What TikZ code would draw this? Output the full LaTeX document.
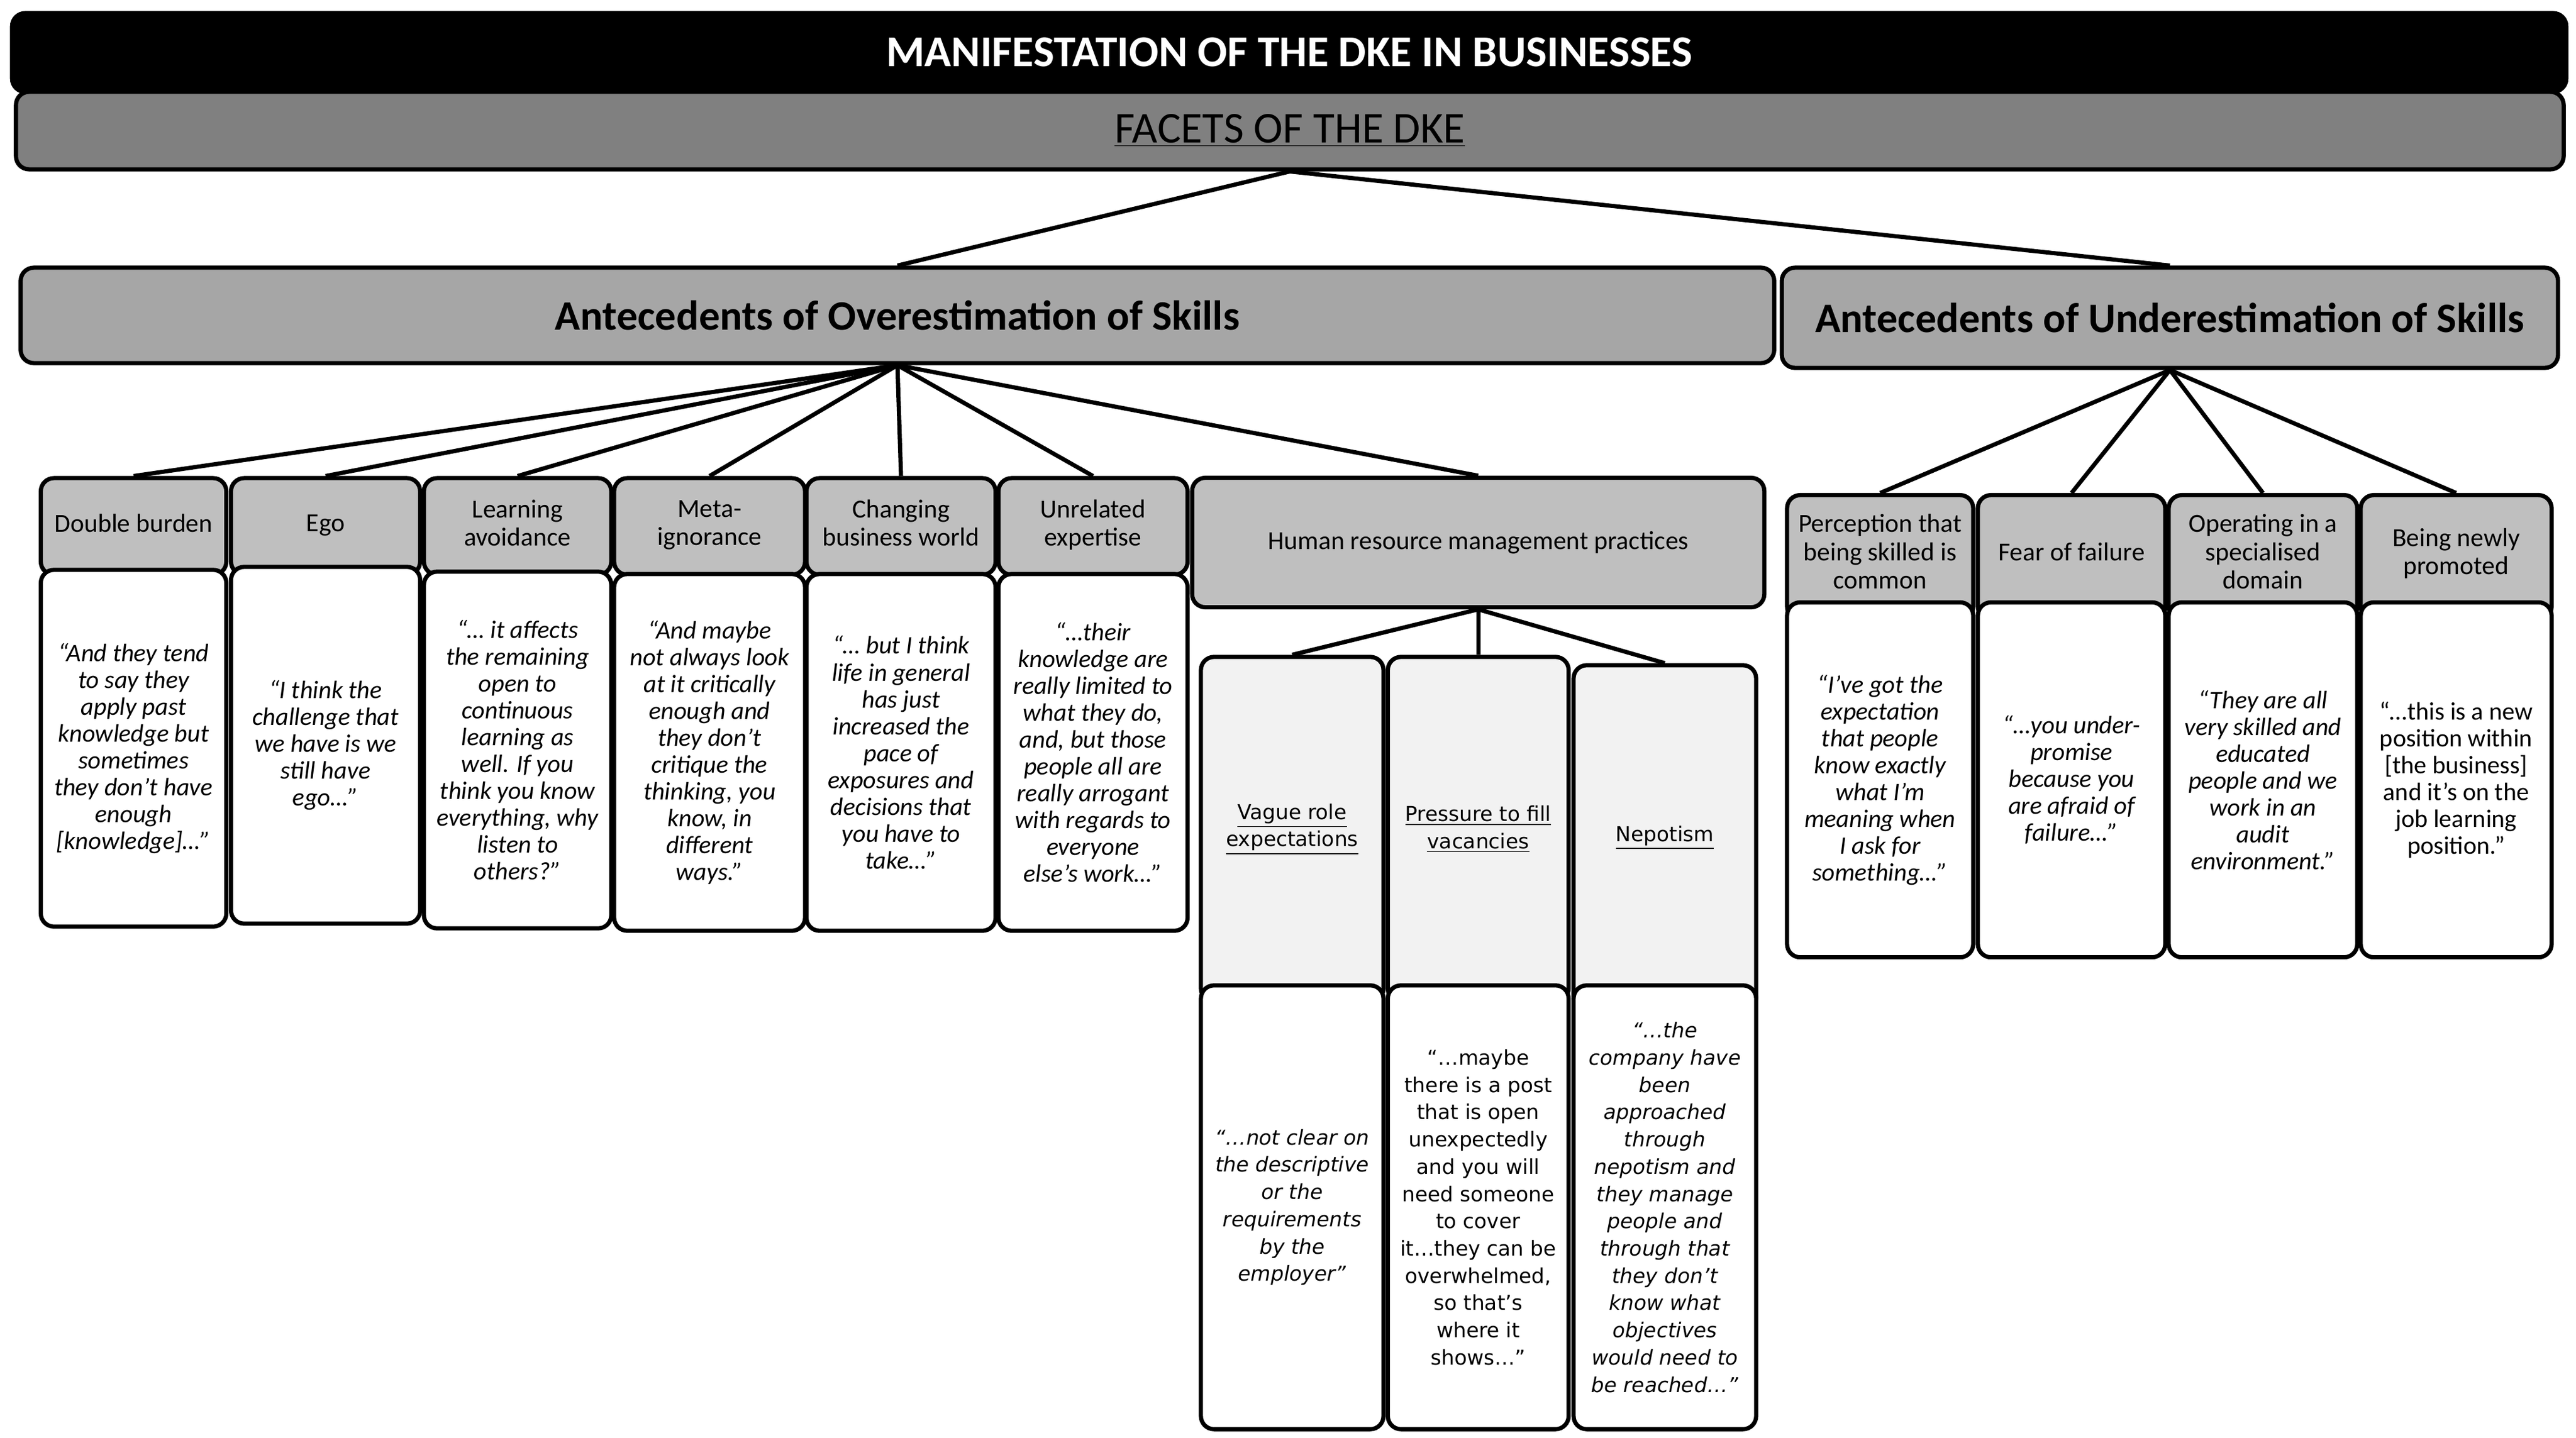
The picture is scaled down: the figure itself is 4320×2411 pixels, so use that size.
\documentclass[tikz,border=0pt]{standalone}
\usepackage{fontspec}
\setmainfont{Carlito}
\newfontfamily\dvs{DejaVu Sans}
\begin{document}
\begin{tikzpicture}[x=0.01cm,y=-0.01cm,
  box/.style={draw=black,line width=2pt,rounded corners=0.22cm,align=center,inner sep=2pt},
  titlebox/.style={box,fill=black,text=white,font=\fontsize{21}{24}\selectfont\bfseries},
  facetbox/.style={box,fill=black!50,font=\fontsize{21}{24}\selectfont},
  bigbox/.style={box,fill=black!35,font=\fontsize{20}{24}\selectfont\bfseries},
  hdr/.style={box,fill=black!25,font=\fontsize{12.4}{13.5}\selectfont},
  quote/.style={box,fill=white,font=\fontsize{12}{12.8}\selectfont\itshape},
  subhdr/.style={box,fill=black!5,font=\dvs\fontsize{9.8}{13}\selectfont},
  subq/.style={box,fill=white,font=\dvs\fontsize{9.8}{13}\selectfont},
  link/.style={line width=2pt}]
\useasboundingbox (0,0) rectangle (4320,2411);
\fill[white] (0,0) rectangle (4320,2411);
% top
\node[titlebox,minimum width=42.81cm,minimum height=1.32cm] (title) at (2162,88) {MANIFESTATION OF THE DKE IN BUSINESSES};
\node[facetbox,minimum width=42.7cm,minimum height=1.3cm] (facets) at (2163,219) {\underline{FACETS OF THE DKE}};
\node[bigbox,minimum width=29.39cm,minimum height=1.6cm] (over) at (1505,529) {Antecedents of Overestimation of Skills};
\node[bigbox,minimum width=13.01cm,minimum height=1.68cm] (under) at (3639,533) {Antecedents of Underestimation of Skills};
\draw[link] (facets.south) -- (over.north);
\draw[link] (facets.south) -- (under.north);
% over headers
\node[hdr,minimum width=3.11cm,minimum height=1.62cm,text depth=0.12cm] (h1) at (224,883) {Double burden};
\node[hdr,minimum width=3.17cm,minimum height=1.62cm,text depth=0.12cm] (h2) at (546,883) {Ego};
\node[hdr,minimum width=3.14cm,minimum height=1.62cm,text depth=0.12cm] (h3) at (868,883) {Learning\\avoidance};
\node[hdr,minimum width=3.2cm,minimum height=1.62cm,text depth=0.12cm] (h4) at (1190,883) {Meta-\\ignorance};
\node[hdr,minimum width=3.17cm,minimum height=1.62cm,text depth=0.12cm] (h5) at (1511,883) {Changing\\business world};
\node[hdr,minimum width=3.17cm,minimum height=1.62cm,text depth=0.12cm] (h6) at (1833,883) {Unrelated\\expertise};
\node[hdr,minimum width=9.59cm,minimum height=2.17cm] (hrm) at (2479,910) {Human resource management practices};
\foreach \n in {h1,h2,h3,h4,h5,h6,hrm} \draw[link] (over.south) -- (\n.north);
% over quotes
\node[quote,minimum width=3.11cm,minimum height=5.98cm] (q1) at (224,1255) {“And they tend\\to say they\\apply past\\knowledge but\\sometimes\\they don’t have\\enough\\{[}knowledge{]}…”};
\node[quote,minimum width=3.17cm,minimum height=5.98cm] (q2) at (546,1250) {“I think the\\challenge that\\we have is we\\still have\\ego…”};
\node[quote,minimum width=3.14cm,minimum height=5.98cm] (q3) at (868,1258) {“… it affects\\the remaining\\open to\\continuous\\learning as\\well. If you\\think you know\\everything, why\\listen to\\others?”};
\node[quote,minimum width=3.2cm,minimum height=5.98cm] (q4) at (1190,1262) {“And maybe\\not always look\\at it critically\\enough and\\they don’t\\critique the\\thinking, you\\know, in\\different\\ways.”};
\node[quote,minimum width=3.17cm,minimum height=5.98cm] (q5) at (1511,1262) {“… but I think\\life in general\\has just\\increased the\\pace of\\exposures and\\decisions that\\you have to\\take…”};
\node[quote,minimum width=3.17cm,minimum height=5.98cm] (q6) at (1833,1262) {“…their\\knowledge are\\really limited to\\what they do,\\and, but those\\people all are\\really arrogant\\with regards to\\everyone\\else’s work…”};
% HRM subs
\node[subhdr,minimum width=3.06cm,minimum height=5.78cm] (s1) at (2167,1391) {\underline{Vague role}\\\underline{expectations}};
\node[subhdr,minimum width=3.03cm,minimum height=5.78cm] (s2) at (2479,1391) {\underline{Pressure to fill}\\\underline{vacancies}};
\node[subhdr,minimum width=3.06cm,minimum height=5.78cm] (s3) at (2792,1405) {\underline{Nepotism}};
\foreach \n in {s1,s2,s3} \draw[link] (hrm.south) -- (\n.north);
\node[subq,minimum width=3.06cm,minimum height=7.44cm,font=\dvs\fontsize{9.8}{13}\selectfont\itshape] (t1) at (2167,2025) {“…not clear on\\the descriptive\\or the\\requirements\\by the\\employer”};
\node[subq,minimum width=3.03cm,minimum height=7.44cm] (t2) at (2479,2025) {“…maybe\\there is a post\\that is open\\unexpectedly\\and you will\\need someone\\to cover\\it…they can be\\overwhelmed,\\so that’s\\where it\\shows…”};
\node[subq,minimum width=3.06cm,minimum height=7.44cm,font=\dvs\fontsize{9.8}{13}\selectfont\itshape] (t3) at (2792,2025) {“…the\\company have\\been\\approached\\through\\nepotism and\\they manage\\people and\\through that\\they don’t\\know what\\objectives\\would need to\\be reached…”};
% under headers
\node[hdr,minimum width=3.12cm,minimum height=2.09cm,text depth=0.2cm] (u1) at (3153,935) {Perception that\\being skilled is\\common};
\node[hdr,minimum width=3.14cm,minimum height=2.09cm,text depth=0.2cm] (u2) at (3474,935) {Fear of failure};
\node[hdr,minimum width=3.16cm,minimum height=2.09cm,text depth=0.2cm] (u3) at (3795,935) {Operating in a\\specialised\\domain};
\node[hdr,minimum width=3.2cm,minimum height=2.09cm,text depth=0.2cm] (u4) at (4119,935) {Being newly\\promoted};
\foreach \n in {u1,u2,u3,u4} \draw[link] (under.south) -- (\n.north);
\node[quote,minimum width=3.12cm,minimum height=5.95cm] (v1) at (3153,1308) {“I’ve got the\\expectation\\that people\\know exactly\\what I’m\\meaning when\\I ask for\\something…”};
\node[quote,minimum width=3.14cm,minimum height=5.95cm] (v2) at (3474,1308) {“…you under-\\promise\\because you\\are afraid of\\failure…”};
\node[quote,minimum width=3.16cm,minimum height=5.95cm] (v3) at (3795,1308) {“They are all\\very skilled and\\educated\\people and we\\work in an\\audit\\environment.”};
\node[quote,minimum width=3.2cm,minimum height=5.95cm,font=\fontsize{12}{12.8}\selectfont] (v4) at (4119,1308) {“…this is a new\\position within\\{[}the business{]}\\and it’s on the\\job learning\\position.”};
\end{tikzpicture}
\end{document}
